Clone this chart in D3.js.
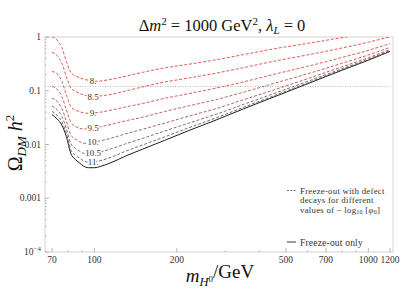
<!DOCTYPE html>
<html><head><meta charset="utf-8">
<script src="https://cdn.jsdelivr.net/npm/d3@7"></script>
<style>body{margin:0;background:#fff}svg{display:block}text{font-family:"Liberation Serif","DejaVu Serif",serif}</style>
</head><body><svg id="c" width="405" height="304"></svg>
<script>
const masses = [70,73,76,79,82,85,88,91,95,100,105,115,130,150,180,220,280,350,450,600,800,1000,1200];
const curveNames = ["8.","8.5","9.","9.5","10.","10.5","11."];
const c8   = [1.0,0.88,0.64,0.35,0.22,0.19,0.176,0.165,0.157,0.150,0.152,0.163,0.186,0.22,0.265,0.31,0.38,0.47,0.60,0.76,0.97,1.15,1.3];
const c85  = [0.518,0.455,0.33,0.182,0.113,0.098,0.090,0.084,0.080,0.078,0.080,0.0856,0.099,0.118,0.145,0.172,0.214,0.269,0.352,0.465,0.624,0.80,1.01];
const c9   = [0.229,0.207,0.152,0.084,0.051,0.044,0.041,0.039,0.038,0.039,0.0399,0.0436,0.050,0.058,0.072,0.088,0.113,0.146,0.201,0.285,0.415,0.565,0.755];
const c95  = [0.12,0.107,0.079,0.044,0.026,0.022,0.020,0.0195,0.0195,0.0205,0.0214,0.0236,0.0276,0.0322,0.041,0.052,0.069,0.094,0.136,0.207,0.324,0.463,0.643];
const c10  = [0.073,0.064,0.047,0.027,0.015,0.0127,0.0114,0.0106,0.0105,0.0112,0.0117,0.0131,0.0158,0.0192,0.0249,0.0335,0.047,0.068,0.103,0.168,0.278,0.412,0.587];
const c105 = [0.052,0.0446,0.0336,0.0197,0.0104,0.0085,0.0076,0.0069,0.0067,0.0070,0.0073,0.0083,0.0103,0.0130,0.0177,0.0248,0.037,0.0557,0.088,0.1495,0.257,0.389,0.561];
const c11  = [0.0413,0.0349,0.0265,0.0159,0.0080,0.0064,0.0056,0.0050,0.0047,0.0048,0.0050,0.0058,0.0075,0.0098,0.0138,0.0203,0.0317,0.0492,0.080,0.140,0.246,0.376,0.547];
const solid= [0.036,0.030,0.023,0.014,0.0068,0.0053,0.0046,0.0040,0.0037,0.0037,0.0039,0.0046,0.0061,0.0082,0.0119,0.0180,0.029,0.046,0.076,0.135,0.24,0.37,0.54];
const planck = 0.12;
const xTickVals = [70,100,200,500,700,1000,1200];
const xMinor = [80,90,300,400,600,800,900];
const yTickVals = [1,0.1,0.01,0.001,0.0001];
const yTickLabels = ["1","0.1","0.01","0.001",""];

const colors = ["#e8433d","#e0463f","#d54b47","#b9524f","#9d5654","#7d5e5c","#5f5f5f"];
const dashed = [c8,c85,c9,c95,c10,c105,c11];

const svg = d3.select("#c");
const L=45,R=393,T=37,B=252;
const x = d3.scaleLog().domain([66,1230]).range([L,R]);
const y = d3.scaleLog().domain([1e-4,1]).range([B,T]);

svg.append("defs").append("clipPath").attr("id","clip").append("rect")
  .attr("x",L).attr("y",T).attr("width",R-L).attr("height",B-T);

svg.append("rect").attr("x",L).attr("y",T).attr("width",R-L).attr("height",B-T)
  .attr("fill","none").attr("stroke","#c8c8c8").attr("stroke-width",0.8);

const yMinor=[];
for(let e=-4;e<0;e++){for(let k=2;k<10;k++)yMinor.push(k*Math.pow(10,e));}
const gy = svg.append("g");
gy.selectAll("line.mj").data(yTickVals).join("line").attr("x1",L).attr("x2",L+4)
  .attr("y1",d=>y(d)).attr("y2",d=>y(d)).attr("stroke","#999").attr("stroke-width",0.7);
gy.selectAll("line.mn").data(yMinor).join("line").attr("x1",L).attr("x2",L+2)
  .attr("y1",d=>y(d)).attr("y2",d=>y(d)).attr("stroke","#aaa").attr("stroke-width",0.6);
gy.selectAll("text").data(yTickVals).join("text").attr("x",L-4).attr("y",d=>y(d)+3)
  .attr("text-anchor","end").attr("font-size",9.5).attr("fill","#333").text((d,i)=>yTickLabels[i]);
const t4 = gy.append("text").attr("x",L-4).attr("y",y(1e-4)+3).attr("text-anchor","end").attr("font-size",9.5).attr("fill","#333");
t4.append("tspan").text("10");
t4.append("tspan").attr("dy",-4).attr("font-size",7).text("−4");

const gx = svg.append("g");
gx.selectAll("line.mj").data(xTickVals).join("line").attr("x1",d=>x(d)).attr("x2",d=>x(d))
  .attr("y1",B).attr("y2",B-4).attr("stroke","#999").attr("stroke-width",0.7);
gx.selectAll("line.mn").data(xMinor).join("line").attr("x1",d=>x(d)).attr("x2",d=>x(d))
  .attr("y1",B).attr("y2",B-2).attr("stroke","#aaa").attr("stroke-width",0.6);
gx.selectAll("text").data(xTickVals).join("text").attr("x",d=>x(d)).attr("y",B+11)
  .attr("text-anchor","middle").attr("font-size",9.5).attr("fill","#333").text(d=>d);

const gp = svg.append("g").attr("clip-path","url(#clip)");
gp.append("line").attr("x1",x(66)).attr("x2",x(1200)).attr("y1",y(planck)).attr("y2",y(planck))
  .attr("stroke","#999").attr("stroke-width",0.7).attr("stroke-dasharray","1,1.5");
const line = d3.line().x((d,i)=>x(masses[i])).y(d=>y(d)).curve(d3.curveMonotoneX);
gp.append("path").attr("d",line(solid)).attr("fill","none").attr("stroke","#1e1e1e").attr("stroke-width",1);
dashed.forEach((arr,k)=>{
  gp.append("path").attr("d",line(arr)).attr("fill","none").attr("stroke",colors[k])
    .attr("stroke-width",0.9).attr("stroke-dasharray","3,1.8");
});
const li = masses.indexOf(100);
dashed.forEach((arr,k)=>{
  svg.append("text").attr("x",x(99)).attr("y",y(arr[li])+3).attr("text-anchor","middle")
    .attr("font-size",9).attr("fill","#333").attr("stroke","#fff").attr("stroke-width",2.5)
    .attr("paint-order","stroke").text(curveNames[k]);
});

const tt = svg.append("text").attr("x",222).attr("y",31).attr("text-anchor","middle").attr("font-size",16.5).attr("fill","#111");
tt.append("tspan").text("Δ");
tt.append("tspan").attr("font-style","italic").text("m");
tt.append("tspan").attr("dy",-6).attr("font-size",11).text("2");
tt.append("tspan").attr("dy",6).text(" = 1000 GeV");
tt.append("tspan").attr("dy",-6).attr("font-size",11).text("2");
tt.append("tspan").attr("dy",6).text(", ");
tt.append("tspan").attr("font-style","italic").text("λ");
tt.append("tspan").attr("dy",3).attr("font-size",11).attr("font-style","italic").text("L");
tt.append("tspan").attr("dy",-3).text(" = 0");

const yl = svg.append("text").attr("transform","translate(22,143) rotate(-90)").attr("text-anchor","middle").attr("font-size",20).attr("fill","#111");
yl.append("tspan").text("Ω");
yl.append("tspan").attr("dy",4).attr("font-size",13).attr("font-style","italic").text("DM");
yl.append("tspan").attr("dy",-4).attr("font-style","italic").text(" h");
yl.append("tspan").attr("dy",-8).attr("font-size",13).text("2");

const xl = svg.append("text").attr("x",220).attr("y",282).attr("text-anchor","middle").attr("font-size",19).attr("fill","#111");
xl.append("tspan").attr("font-style","italic").text("m");
xl.append("tspan").attr("dy",4).attr("font-size",12.5).attr("font-style","italic").text("H");
xl.append("tspan").attr("dy",-4).attr("font-size",9).text("0");
xl.append("tspan").attr("dy",4).text("");
xl.append("tspan").attr("dy",-4).text("/GeV");

const lg = svg.append("g");
lg.append("line").attr("x1",287).attr("x2",297).attr("y1",190.5).attr("y2",190.5).attr("stroke","#444").attr("stroke-width",0.8).attr("stroke-dasharray","2,1.3");
["Freeze-out with defect","decays for different"].forEach((s,i)=>{
  lg.append("text").attr("x",300).attr("y",193.5+i*9.6).attr("font-size",8.8).attr("letter-spacing",0.25).attr("fill","#333").text(s);
});
const l3 = lg.append("text").attr("x",300).attr("y",212.7).attr("font-size",8.8).attr("letter-spacing",0.25).attr("fill","#333");
l3.append("tspan").text("values of − log");
l3.append("tspan").attr("dy",1.5).attr("font-size",6).text("10");
l3.append("tspan").attr("dy",-1.5).text(" [");
l3.append("tspan").attr("font-style","italic").text("φ");
l3.append("tspan").attr("dy",1.5).attr("font-size",6).text("0");
l3.append("tspan").attr("dy",-1.5).text("]");
lg.append("line").attr("x1",287).attr("x2",296).attr("y1",242).attr("y2",242).attr("stroke","#222").attr("stroke-width",0.9);
lg.append("text").attr("x",300).attr("y",245.5).attr("font-size",9.5).attr("letter-spacing",0.2).attr("fill","#333").text("Freeze-out only");
</script></body></html>
